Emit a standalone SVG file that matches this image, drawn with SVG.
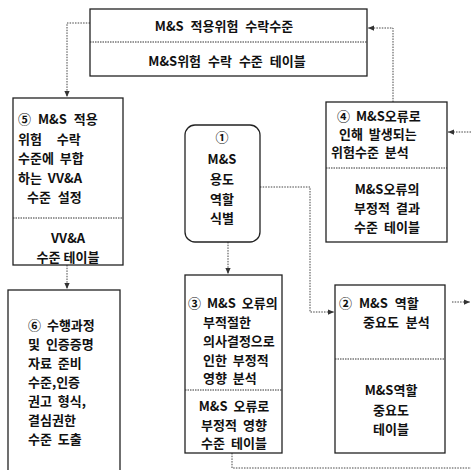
<svg xmlns="http://www.w3.org/2000/svg" width="471" height="470" viewBox="0 0 471 470">
<style>
.box{fill:#fff;stroke:#222;stroke-width:1.3}
.div{stroke:#333;stroke-width:1;stroke-dasharray:1.5 1;fill:none}
.con{fill:none;stroke:#444;stroke-width:1;stroke-dasharray:1.5 1.2}
text{font-family:"Noto Sans CJK KR","Noto Sans",sans-serif;font-weight:bold;font-size:13px;fill:#111;dominant-baseline:central}
.c{text-anchor:middle}
</style>
<defs>
<marker id="ah" viewBox="0 0 8 8" refX="8" refY="4" markerWidth="6" markerHeight="6" orient="auto" markerUnits="userSpaceOnUse">
<path d="M0,0.5 L8,4 L0,7.5 Z" fill="#333"/>
</marker>
</defs>
<rect width="471" height="470" fill="#fff"/>
<g id="connectors">
<path class="con" d="M90,23 H67 V97" marker-end="url(#ah)"/>
<path class="con" d="M393,102 V28 H368" marker-end="url(#ah)"/>
<path class="con" d="M471,132 H448" marker-end="url(#ah)"/>
<path class="con" d="M67,265 V289" marker-end="url(#ah)"/>
<path class="con" d="M228,242 V274" marker-end="url(#ah)"/>
<path class="con" d="M260,187 H310 V312 H334" marker-end="url(#ah)"/>
<path class="con" d="M452,302 H470" marker-end="url(#ah)"/>
<path class="con" d="M232,453 V468 H471"/>
</g>
<g id="node-top">
<rect class="box" x="90" y="9" width="277" height="67"/>
<line class="div" x1="90" y1="42" x2="367" y2="42"/>
<text class="c" x="224" y="25" word-spacing="4">M&amp;S 적용위험 수락수준</text>
<text class="c" x="227" y="60" word-spacing="4">M&amp;S위험 수락 수준 테이블</text>
</g>
<g id="node-5">
<rect class="box" x="13" y="98" width="110" height="167"/>
<line class="div" x1="13" y1="218" x2="123" y2="218"/>
<text x="18" y="118" word-spacing="4">⑤ M&amp;S 적용</text>
<text x="18" y="138" word-spacing="12">위험 수락</text>
<text x="18" y="157" word-spacing="3">수준에 부합</text>
<text x="18" y="177" word-spacing="3">하는 VV&amp;A</text>
<text x="27" y="196" word-spacing="4">수준 설정</text>
<text class="c" x="68" y="237">VV&amp;A</text>
<text class="c" x="68" y="256">수준 테이블</text>
</g>
<g id="node-6">
<rect class="box" x="8" y="290" width="112" height="190"/>
<text x="28" y="324" word-spacing="3">⑥ 수행과정</text>
<text x="28" y="343" word-spacing="3">및 인증증명</text>
<text x="28" y="362" word-spacing="3">자료 준비</text>
<text x="28" y="381">수준,인증</text>
<text x="28" y="400" word-spacing="3">권고 형식,</text>
<text x="28" y="419">결심권한</text>
<text x="28" y="438" word-spacing="3">수준 도출</text>
</g>
<g id="node-1">
<rect class="box" x="185" y="125" width="75" height="117" rx="10"/>
<text class="c" x="222" y="136">①</text>
<text class="c" x="222" y="158">M&amp;S</text>
<text class="c" x="222" y="178">용도</text>
<text class="c" x="222" y="198">역할</text>
<text class="c" x="222" y="217">식별</text>
</g>
<g id="node-3">
<rect class="box" x="185" y="275" width="97" height="178"/>
<line class="div" x1="185" y1="390" x2="282" y2="390"/>
<text x="188" y="302" word-spacing="3">③ M&amp;S 오류의</text>
<text x="203" y="321">부적절한</text>
<text x="203" y="340">의사결정으로</text>
<text x="203" y="359" word-spacing="3">인한 부정적</text>
<text x="203" y="377" word-spacing="3">영향 분석</text>
<text class="c" x="234" y="405" word-spacing="3">M&amp;S 오류로</text>
<text class="c" x="234" y="424" word-spacing="3">부정적 영향</text>
<text class="c" x="234" y="442" word-spacing="3">수준 테이블</text>
</g>
<g id="node-2">
<rect class="box" x="335" y="285" width="110" height="168"/>
<line class="div" x1="335" y1="359" x2="445" y2="359"/>
<text x="339" y="302" word-spacing="4">② M&amp;S 역할</text>
<text x="363" y="321" word-spacing="4">중요도 분석</text>
<text class="c" x="391" y="389">M&amp;S역할</text>
<text class="c" x="391" y="409">중요도</text>
<text class="c" x="391" y="428">테이블</text>
</g>
<g id="node-4">
<rect class="box" x="326" y="102" width="121" height="140"/>
<line class="div" x1="326" y1="168" x2="447" y2="168"/>
<text x="337" y="115" word-spacing="3">④ M&amp;S오류로</text>
<text x="339" y="133" word-spacing="3">인해 발생되는</text>
<text x="331" y="151" word-spacing="3">위험수준 분석</text>
<text class="c" x="387" y="188">M&amp;S오류의</text>
<text class="c" x="387" y="207" word-spacing="3">부정적 결과</text>
<text class="c" x="387" y="226" word-spacing="3">수준 테이블</text>
</g>
</svg>
